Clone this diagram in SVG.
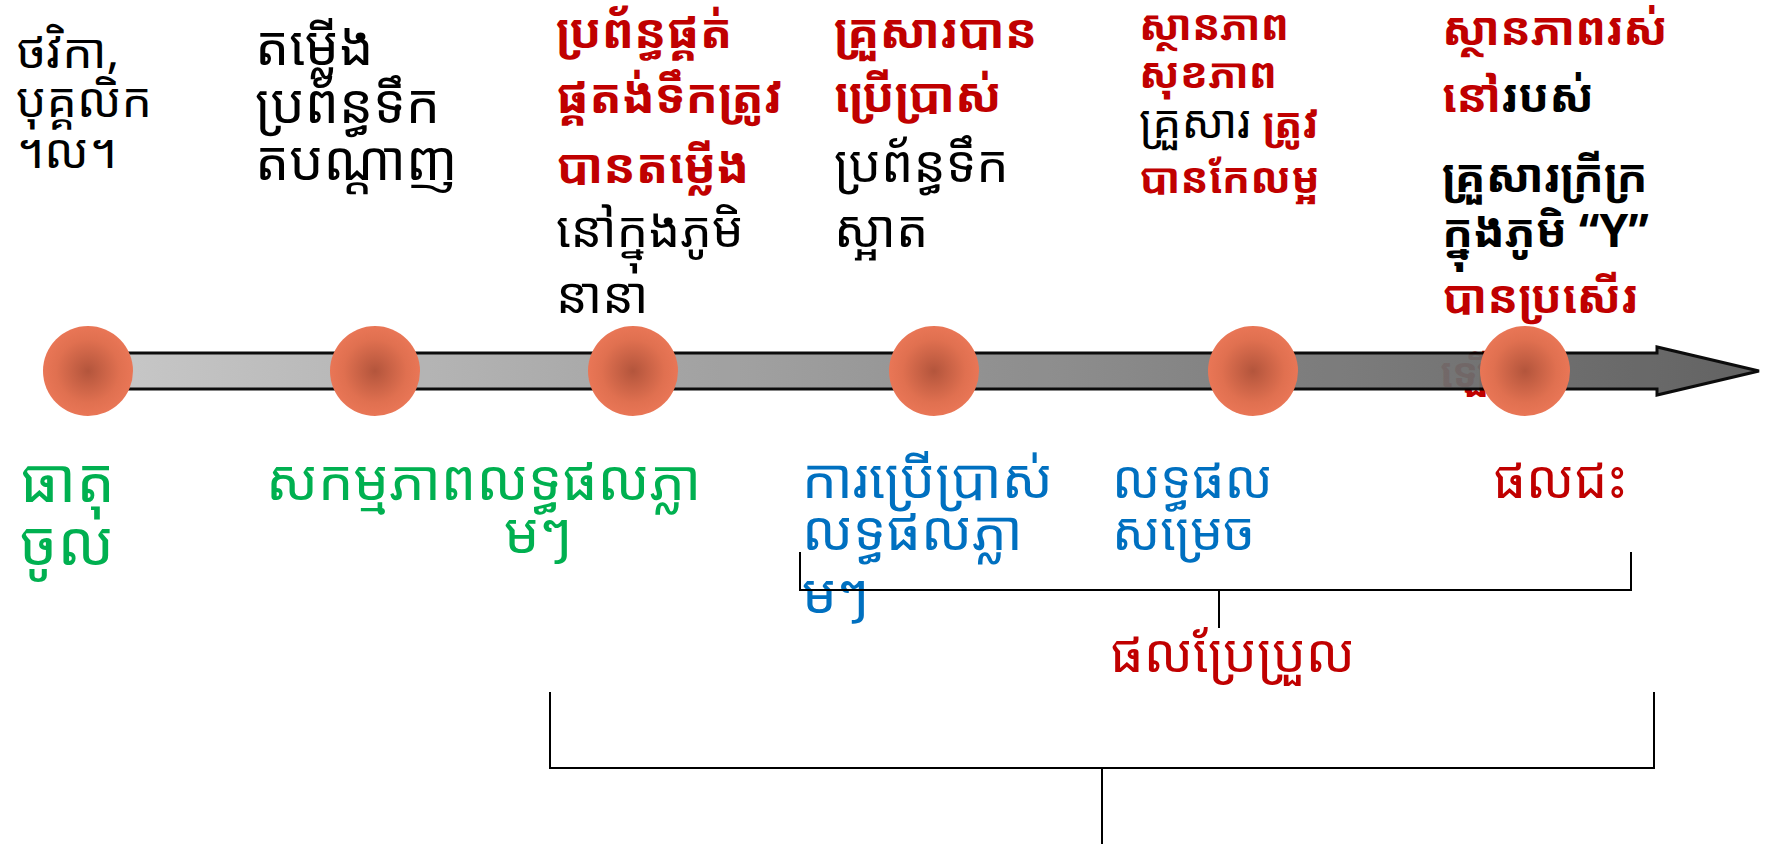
<svg xmlns="http://www.w3.org/2000/svg" width="1768" height="850" viewBox="0 0 1768 850">
<defs>
<linearGradient id="shaft" x1="0" y1="0" x2="1" y2="0">
<stop offset="0" stop-color="#c6c6c6"/>
<stop offset="1" stop-color="#5a5a5a"/>
</linearGradient>
<radialGradient id="ball" cx="0.5" cy="0.5" r="0.5">
<stop offset="0" stop-color="#b3553c"/>
<stop offset="0.7" stop-color="#e07050"/>
<stop offset="1" stop-color="#e97656"/>
</radialGradient>
</defs>
<style>
text{font-family:"Noto Sans Khmer","Khmer OS","Khmer OS System","Noto Serif Khmer","DejaVu Sans",sans-serif;}
.k{fill:#000;}
.r{fill:#c00000;font-weight:bold;}
.rn{fill:#c00000;}
.g{fill:#00b050;}
.b{fill:#0070c0;}
.br{fill:none;stroke:#000;stroke-width:2;}
</style>
<rect width="1768" height="850" fill="#fff"/>
<g id="hidden-text"><text class="r" x="1440" y="387" font-size="40">ឡើង</text></g>
<g id="arrow"><path d="M88,353 H1657 V347 L1759,371 L1657,395 V389 H88 Z" fill="url(#shaft)" stroke="#000" stroke-width="3" opacity="0.95"/></g>
<g id="node1"><circle cx="88" cy="371" r="45" fill="url(#ball)"/>
<text class="k" font-size="48"><tspan x="16" y="68">ថវិកា,</tspan><tspan x="16" y="117">បុគ្គលិក</tspan><tspan x="16" y="168">។ល។</tspan></text>
<text class="g" font-size="61"><tspan x="20" y="502">ធាតុ</tspan><tspan x="20" y="565">ចូល</tspan></text></g>
<g id="node2"><circle cx="375" cy="371" r="45" fill="url(#ball)"/>
<text class="k" font-size="54"><tspan x="255" y="65">តម្លើង</tspan><tspan x="255" y="123">ប្រព័ន្ធទឹក</tspan><tspan x="255" y="180">តបណ្តាញ</tspan></text>
<text class="g" font-size="56"><tspan x="266" y="500">សកម្មភាពលទ្ធផលភ្លា</tspan><tspan x="504" y="553">មៗ</tspan></text></g>
<g id="node3"><circle cx="633" cy="371" r="45" fill="url(#ball)"/>
<text font-size="48"><tspan class="r" x="556" y="48">ប្រព័ន្ធផ្គត់</tspan><tspan class="r" x="556" y="113">ផ្គតង់ទឹកត្រូវ</tspan><tspan class="r" x="556" y="183">បានតម្លើង</tspan><tspan class="k" font-size="50" x="556" y="247">នៅក្នុងភូមិ</tspan><tspan class="k" font-size="50" x="556" y="313">នានា</tspan></text></g>
<g id="node4"><circle cx="934" cy="371" r="45" fill="url(#ball)"/>
<text font-size="48"><tspan class="r" x="834" y="48">គ្រួសារបាន</tspan><tspan class="r" x="834" y="112">ប្រើប្រាស់</tspan><tspan class="k" font-size="51" x="834" y="182">ប្រព័ន្ធទឹក</tspan><tspan class="k" font-size="51" x="834" y="247">ស្អាត</tspan></text>
<text class="b" font-size="55"><tspan x="802" y="498">ការប្រើប្រាស់</tspan><tspan x="802" y="550">លទ្ធផលភ្លា</tspan><tspan x="802" y="613">មៗ</tspan></text></g>
<g id="node5"><circle cx="1253" cy="371" r="45" fill="url(#ball)"/>
<text font-size="42"><tspan class="r" x="1139" y="40">ស្ថានភាព</tspan><tspan class="r" x="1139" y="88">សុខភាព</tspan><tspan class="k" font-size="46" x="1139" y="138">គ្រួសារ </tspan><tspan class="r">ត្រូវ</tspan><tspan class="r" x="1139" y="193">បានកែលម្អ</tspan></text>
<text class="b" font-size="52"><tspan x="1112" y="498">លទ្ធផល</tspan><tspan x="1112" y="550">សម្រេច</tspan></text></g>
<g id="node6"><circle cx="1525" cy="371" r="45" fill="url(#ball)"/>
<text font-size="46"><tspan class="r" x="1442" y="45">ស្ថានភាពរស់</tspan><tspan class="r" x="1442" y="112">នៅ</tspan><tspan class="k" font-weight="bold">របស់</tspan><tspan class="k" font-weight="bold" x="1442" y="192">គ្រួសារក្រីក្រ</tspan><tspan class="k" font-weight="bold" x="1442" y="247">ក្នុងភូមិ “Y”</tspan><tspan class="r" x="1442" y="313">បានប្រសើរ</tspan></text>
<text class="rn" font-size="52" x="1493" y="498">ផលជះ</text></g>
<g id="connectors">
<path class="br" d="M800,552 V590 H1631 V552 M1219,590 V628"/>
<path class="br" d="M550,692 V768 H1654 V692 M1102,768 V844"/>
</g>
<g id="label-change"><text class="rn" font-size="53" x="1110" y="672">ផលប្រែប្រួល</text></g>
</svg>
